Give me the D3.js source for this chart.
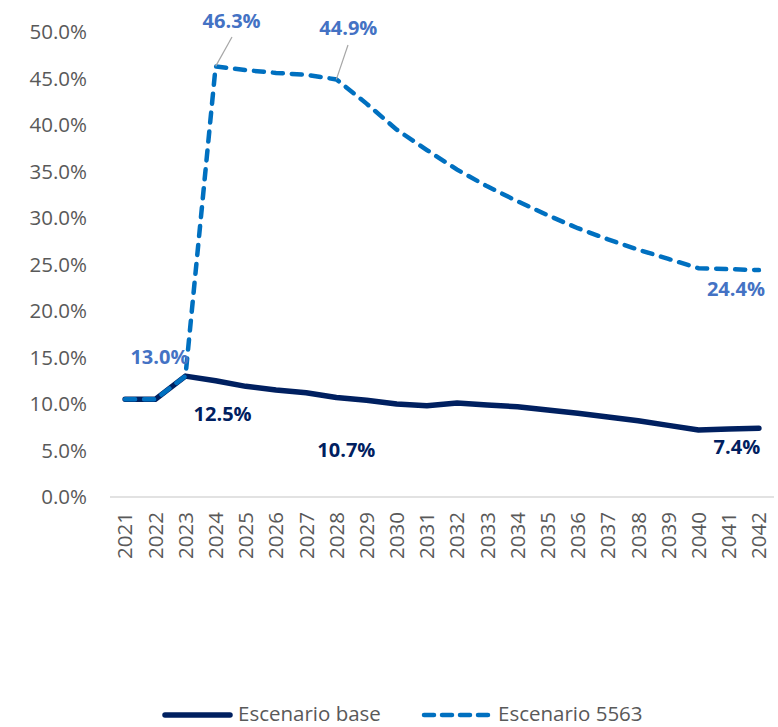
<!DOCTYPE html>
<head>
  <meta charset="utf-8">
  <script src="https://d3js.org/d3.v7.min.js"></script>
  <style>
    body { margin:0; background:#fff; }
    svg { display:block; }
    text { font-family: "Open Sans", sans-serif; }
  </style>
</head>
<body>
<script>
  // data
  var years = ["2021","2022","2023","2024","2025","2026","2027","2028","2029","2030","2031",
               "2032","2033","2034","2035","2036","2037","2038","2039","2040","2041","2042"];
  var base = [10.5,10.5,13.0,12.5,11.9,11.5,11.2,10.7,10.4,10.0,9.8,
              10.1,9.9,9.7,9.35,9.0,8.6,8.2,7.7,7.2,7.3,7.4];
  var esc5563 = [10.5,10.5,13.0,46.3,45.9,45.6,45.4,44.9,42.3,39.5,37.3,
                 35.2,33.4,31.8,30.3,28.9,27.7,26.6,25.6,24.6,24.5,24.4];
  var yTicks = [0,5,10,15,20,25,30,35,40,45,50];
  var seriesNames = ["Escenario base", "Escenario 5563"];

  var width = 778, height = 727;
  var svg = d3.select("body").append("svg")
      .attr("width", width).attr("height", height);

  var x = d3.scaleBand().domain(years).range([110, 774]);
  var y = d3.scaleLinear().domain([0, 50]).range([497, 32]);

  function px(i) { return x(years[i]) + x.bandwidth() / 2; }

  // y axis labels
  svg.selectAll(".ytick")
     .data(yTicks)
     .enter().append("text")
     .attr("x", 87)
     .attr("y", function(d) { return y(d); })
     .attr("dy", "0.36em")
     .attr("text-anchor", "end")
     .attr("font-size", 20.5)
     .attr("fill", "#595959")
     .text(function(d) { return d.toFixed(1) + "%"; });

  // x axis
  svg.append("line")
     .attr("x1", 110).attr("x2", 774)
     .attr("y1", y(0)).attr("y2", y(0))
     .attr("stroke", "#d9d9d9").attr("stroke-width", 1.5);

  svg.selectAll(".xtick")
     .data(years)
     .enter().append("text")
     .attr("transform", function(d) {
       return "translate(" + (x(d) + x.bandwidth() / 2) + "," + 512 + ") rotate(-90)";
     })
     .attr("dy", "0.36em")
     .attr("text-anchor", "end")
     .attr("font-size", 20.5)
     .attr("fill", "#595959")
     .text(function(d) { return d; });

  var line = d3.line()
     .x(function(d, i) { return px(i); })
     .y(function(d) { return y(d); });

  svg.append("path")
     .datum(base)
     .attr("d", line)
     .attr("fill", "none")
     .attr("stroke", "#002060")
     .attr("stroke-width", 5.5)
     .attr("stroke-linejoin", "round")
     .attr("stroke-linecap", "round");

  svg.append("path")
     .datum(esc5563)
     .attr("d", line)
     .attr("fill", "none")
     .attr("stroke", "#0070C0")
     .attr("stroke-width", 4.5)
     .attr("stroke-dasharray", "10,9")
     .attr("stroke-linecap", "round");

  // leader lines: [index, x1, y1]
  var leaders = [[3, 232, 37], [7, 348, 45]];
  svg.selectAll(".leader")
     .data(leaders)
     .enter().append("line")
     .attr("x1", function(d) { return d[1]; })
     .attr("y1", function(d) { return d[2]; })
     .attr("x2", function(d) { return px(d[0]); })
     .attr("y2", function(d) { return y(esc5563[d[0]]); })
     .attr("stroke", "#a6a6a6").attr("stroke-width", 1.2);

  // data labels: [series, index, dx, dy]
  var labels = [
    ["b", 3, 7, 33], ["b", 7, 10, 52], ["b", 21, -22, 19],
    ["e", 2, -26, -19], ["e", 3, 16, -46], ["e", 7, 12, -52], ["e", 21, -23, 19]
  ];
  svg.selectAll(".lbl")
     .data(labels)
     .enter().append("text")
     .attr("x", function(d) { return px(d[1]) + d[2]; })
     .attr("y", function(d) { return y((d[0] == "b" ? base : esc5563)[d[1]]) + d[3]; })
     .attr("dy", "0.36em")
     .attr("text-anchor", "middle")
     .attr("font-size", 20)
     .attr("font-weight", "bold")
     .attr("fill", function(d) { return d[0] == "b" ? "#002060" : "#4472C4"; })
     .text(function(d) { return (d[0] == "b" ? base : esc5563)[d[1]].toFixed(1) + "%"; });

  // legend
  var legY = 714;
  var legend = svg.append("g");
  legend.append("line")
     .attr("x1", 165).attr("x2", 230).attr("y1", legY + 1).attr("y2", legY + 1)
     .attr("stroke", "#002060").attr("stroke-width", 5.5).attr("stroke-linecap", "round");
  legend.append("text")
     .attr("x", 238).attr("y", legY).attr("dy", "0.36em")
     .attr("font-size", 20.5).attr("fill", "#595959")
     .text(seriesNames[0]);
  legend.append("line")
     .attr("x1", 424).attr("x2", 488).attr("y1", legY + 1).attr("y2", legY + 1)
     .attr("stroke", "#0070C0").attr("stroke-width", 4.5)
     .attr("stroke-dasharray", "10,8").attr("stroke-linecap", "round");
  legend.append("text")
     .attr("x", 498).attr("y", legY).attr("dy", "0.36em")
     .attr("font-size", 20.5).attr("fill", "#595959")
     .text(seriesNames[1]);
</script>
</body>
